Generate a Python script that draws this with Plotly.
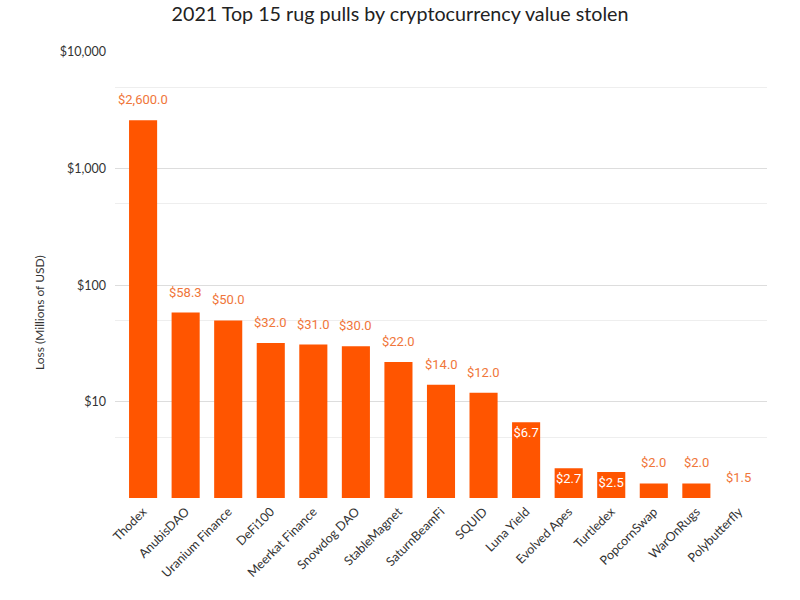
import plotly.graph_objects as go
import math

categories = ["Thodex", "AnubisDAO", "Uranium Finance", "DeFi100", "Meerkat Finance",
              "Snowdog DAO", "StableMagnet", "SaturnBeamFi", "SQUID", "Luna Yield",
              "Evolved Apes", "Turtledex", "PopcornSwap", "WarOnRugs", "Polybutterfly"]
values = [2600.0, 58.3, 50.0, 32.0, 31.0, 30.0, 22.0, 14.0, 12.0, 6.7, 2.7, 2.5, 2.0, 2.0, 1.5]
major_ticks = [10, 100, 1000, 10000]
major_labels = ["$10", "$100", "$1,000", "$10,000"]
minor_ticks = [5, 50, 500, 5000]

inside_set = {"Luna Yield", "Evolved Apes", "Turtledex"}
inside_text = ["$%.1f" % v if c in inside_set else "" for c, v in zip(categories, values)]

fig = go.Figure()
fig.add_trace(go.Bar(
    x=categories, y=values,
    marker=dict(color="#FF5500", line=dict(width=0)),
    text=inside_text,
    textposition="inside",
    insidetextanchor="end",
    textangle=0,
    constraintext="none",
    textfont=dict(family="Roboto", size=13, color="#FFFFFF"),
    cliponaxis=False,
    hoverinfo="skip",
))

for c, v in zip(categories, values):
    if c in inside_set:
        continue
    fig.add_annotation(
        x=c, y=math.log10(v), xref="x", yref="y",
        text="${:,.1f}".format(v),
        showarrow=False, yanchor="bottom", yshift=11,
        font=dict(family="Roboto", size=13, color="#F0763A"),
    )

# y-axis title (placed slightly below centre, as in the reference)
fig.add_annotation(
    text="Loss (Millions of USD)", textangle=-90,
    xref="paper", yref="paper", x=-0.1166, y=0.417,
    xanchor="center", yanchor="middle", showarrow=False,
    font=dict(family="Lato", size=12, color="#333333"),
)

fig.update_layout(
    width=800, height=600,
    paper_bgcolor="white", plot_bgcolor="white",
    margin=dict(l=115, r=33, t=52, b=102, autoexpand=False),
    bargap=0.34,
    showlegend=False,
    title=dict(text="2021 Top 15 rug pulls by cryptocurrency value stolen",
               x=0.5, xanchor="center", y=0.977, yanchor="middle",
               font=dict(family="Lato", size=19.7, color="#222222")),
    font=dict(family="Lato", color="#333333"),
)

fig.update_xaxes(
    type="category",
    range=[-0.66, 14.66],
    tickangle=-45,
    tickfont=dict(family="Lato", size=12.5, color="#333333"),
    showgrid=False, showline=False, ticks="",
    ticklabelstandoff=3,
    automargin=False,
)

fig.update_yaxes(
    type="log",
    range=[math.log10(1.5), 4],
    tickvals=major_ticks,
    ticktext=major_labels,
    tickfont=dict(family="Lato", size=12.5, color="#333333"),
    showgrid=True, gridcolor="#DDDDDD", gridwidth=1,
    zeroline=False, showline=False, ticks="",
    ticklabelstandoff=8,
    automargin=False,
    minor=dict(tickvals=minor_ticks, showgrid=True, gridcolor="#EEEEEE", gridwidth=1, ticks=""),
)

fig.write_html("out.html", config={"displayModeBar": False},
               post_script="document.body.style.margin='0';")
